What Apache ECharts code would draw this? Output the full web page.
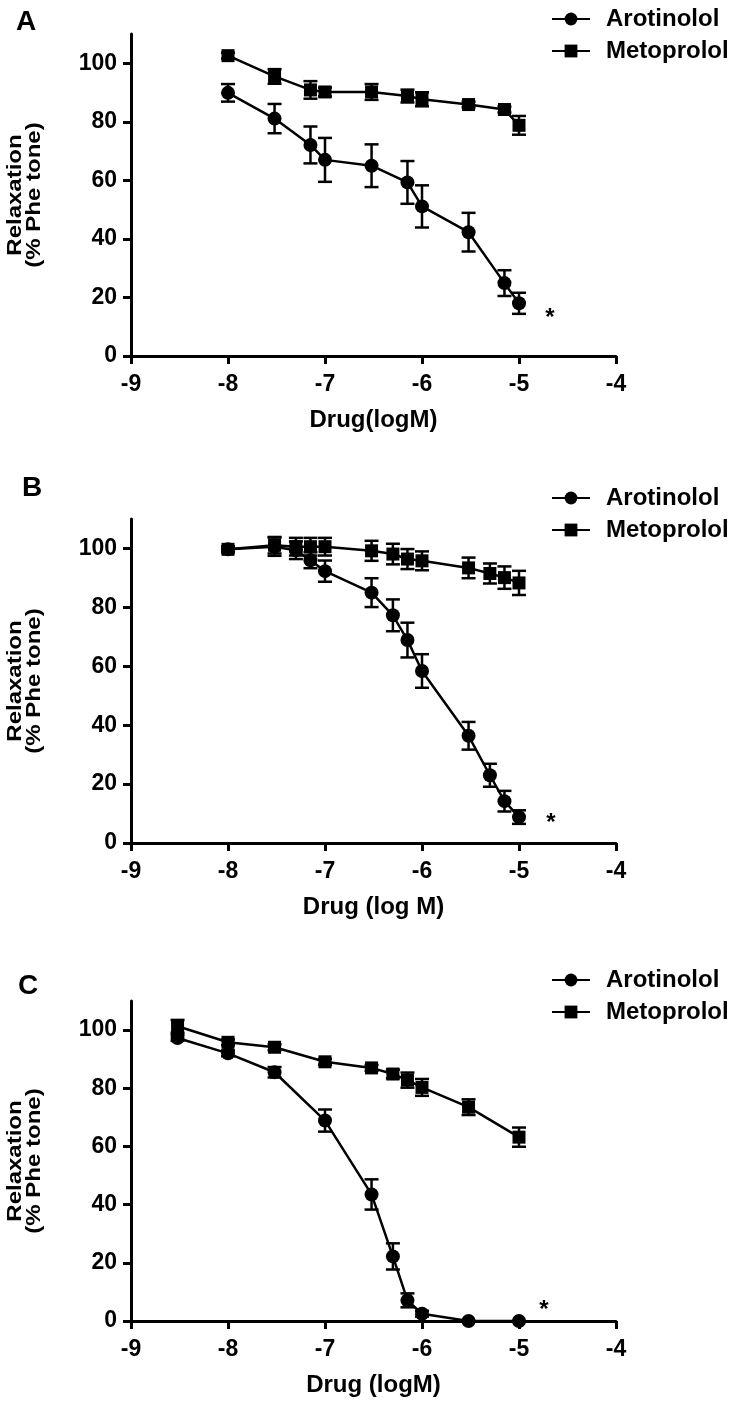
<!DOCTYPE html>
<html>
<head>
<meta charset="utf-8">
<script src="https://cdn.jsdelivr.net/npm/echarts@6/dist/echarts.min.js"></script>
<style>html,body{margin:0;padding:0;background:#fff}#c{width:740px;height:1405px}</style>
</head>
<body>
<div id="c"></div>
<script>
// ---------- data ----------
const panelLetters = ['A', 'B', 'C'];
const xTitles = ['Drug(logM)', 'Drug (log M)', 'Drug (logM)'];
const yTitle = 'Relaxation\n(% Phe tone)';
const seriesNames = ['Arotinolol', 'Metoprolol'];
const yTicks = [0, 20, 40, 60, 80, 100];

// Panel A
const xA = [-8, -7.52, -7.15, -7, -6.52, -6.15, -6, -5.52, -5.15, -5];
const aroA = [89.9, 81.1, 72.1, 67.0, 65.0, 59.3, 51.1, 42.3, 24.9, 18.0];
const aroA_sem = [3.0, 5.0, 6.3, 7.5, 7.3, 7.3, 7.2, 6.6, 4.4, 3.6];
const metA = [102.6, 95.5, 90.9, 90.2, 90.2, 88.8, 87.7, 85.9, 84.2, 78.8];
const metA_sem = [1.0, 2.5, 3.0, 1.5, 2.7, 2.2, 2.4, 1.0, 1.0, 3.2];

// Panel B
const xB = [-8, -7.52, -7.3, -7.15, -7, -6.52, -6.3, -6.15, -6, -5.52, -5.3, -5.15, -5];
const aroB = [99.7, 100.6, 99.4, 96.0, 92.3, 85.0, 77.3, 68.9, 58.4, 36.4, 23.0, 14.2, 8.8];
const aroB_sem = [1.0, 3.1, 3.0, 2.7, 3.6, 4.9, 5.4, 5.9, 5.7, 4.7, 3.9, 3.5, 2.3];
const metB = [99.7, 101.1, 100.6, 100.6, 100.6, 99.2, 98.1, 96.4, 95.8, 93.4, 91.5, 90.1, 88.3];
const metB_sem = [1.0, 2.8, 3.0, 3.0, 3.0, 3.4, 3.5, 3.4, 3.2, 3.5, 3.4, 3.8, 4.1];

// Panel C
const xC = [-8.52, -8, -7.52, -7, -6.52, -6.3, -6.15, -6, -5.52, -5];
const aroC = [97.3, 92.0, 85.5, 68.9, 43.5, 22.2, 7.1, 2.5, 0, 0];
const aroC_sem = [1.0, 1.0, 1.8, 3.8, 5.2, 4.5, 2.4, 1.0, 0, 0];
const metC = [101.3, 95.8, 94.1, 89.1, 87.0, 84.9, 82.8, 80.3, 73.5, 63.2];
const metC_sem = [2.2, 1.0, 1.0, 1.0, 1.0, 1.5, 2.6, 2.9, 2.7, 3.3];

const panels = [
  {x: xA, aro: aroA, aroSem: aroA_sem, met: metA, metSem: metA_sem},
  {x: xB, aro: aroB, aroSem: aroB_sem, met: metB, metSem: metB_sem},
  {x: xC, aro: aroC, aroSem: aroC_sem, met: metC, metSem: metC_sem}
];

// ---------- layout / style ----------
const FONT = '"Liberation Sans", Arial, sans-serif';
const grids = [
  {left: 131, right: 124, top: 34, height: 322},
  {left: 131, right: 124, top: 519, height: 324},
  {left: 131, right: 124, top: 1001, height: 320}
];
const legendTops = [2, 481, 963];
const letterPos = [[26, 23], [32, 489], [28, 987]];
const starPos = [[550, 318], [551, 823], [544, 1310]];
const yTitleX = 25;

const pairs = (xs, ys) => xs.map((x, i) => [x, ys[i]]);
const errs = (xs, ys, s) => xs.map((x, i) => [x, ys[i] - s[i], ys[i] + s[i]]);

function errorBar(params, api) {
  const x = api.value(0), lo = api.value(1), hi = api.value(2);
  const p1 = api.coord([x, lo]), p2 = api.coord([x, hi]);
  const w = 7;
  const st = {stroke: '#000', lineWidth: 2.5};
  return {
    type: 'group',
    children: [
      {type: 'line', shape: {x1: p1[0], y1: p1[1], x2: p2[0], y2: p2[1]}, style: st},
      {type: 'line', shape: {x1: p1[0] - w, y1: p1[1], x2: p1[0] + w, y2: p1[1]}, style: st},
      {type: 'line', shape: {x1: p2[0] - w, y1: p2[1], x2: p2[0] + w, y2: p2[1]}, style: st}
    ]
  };
}

const xAxes = [], yAxes = [], series = [], legends = [], graphics = [];
panels.forEach((p, i) => {
  xAxes.push({
    gridIndex: i, type: 'value', min: -9, max: -4, interval: 1,
    name: xTitles[i], nameLocation: 'middle', nameGap: 52,
    nameTextStyle: {fontFamily: FONT, fontWeight: 'bold', fontSize: 24, color: '#000'},
    axisLine: {show: true, onZero: false, lineStyle: {color: '#000', width: 3}},
    axisTick: {show: true, inside: false, length: 8, lineStyle: {color: '#000', width: 3}},
    axisLabel: {margin: 17, fontFamily: FONT, fontWeight: 'bold', fontSize: 23, color: '#000'},
    splitLine: {show: false}
  });
  yAxes.push({
    gridIndex: i, type: 'value', min: 0, max: 110, interval: 20,
    axisLine: {show: true, onZero: false, lineStyle: {color: '#000', width: 3}},
    axisTick: {show: true, inside: false, length: 8, customValues: yTicks, lineStyle: {color: '#000', width: 3}},
    axisLabel: {margin: 14, customValues: yTicks, fontFamily: FONT, fontWeight: 'bold', fontSize: 23, color: '#000'},
    splitLine: {show: false}
  });
  series.push({
    type: 'custom', xAxisIndex: i, yAxisIndex: i, renderItem: errorBar,
    data: errs(p.x, p.met, p.metSem), silent: true, z: 3
  });
  series.push({
    type: 'custom', xAxisIndex: i, yAxisIndex: i, renderItem: errorBar,
    data: errs(p.x, p.aro, p.aroSem), silent: true, z: 3
  });
  series.push({
    name: seriesNames[1], type: 'line', xAxisIndex: i, yAxisIndex: i,
    data: pairs(p.x, p.met), symbol: 'rect', symbolSize: 13,
    lineStyle: {color: '#000', width: 2.5}, itemStyle: {color: '#000'},
    animation: false, z: 4
  });
  series.push({
    name: seriesNames[0], type: 'line', xAxisIndex: i, yAxisIndex: i,
    data: pairs(p.x, p.aro), symbol: 'circle', symbolSize: 14,
    lineStyle: {color: '#000', width: 2.5}, itemStyle: {color: '#000'},
    animation: false, z: 5
  });
  legends.push({
    data: seriesNames, orient: 'vertical', left: 546, top: legendTops[i],
    itemWidth: 38, itemHeight: 16, itemGap: 8,
    textStyle: {fontFamily: FONT, fontWeight: 'bold', fontSize: 24, color: '#000', padding: [0, 0, 0, 11]},
    selectedMode: false
  });
  graphics.push({
    type: 'text', left: letterPos[i][0] - 10, top: letterPos[i][1] - 15,
    style: {text: panelLetters[i], font: 'bold 28px ' + FONT, fill: '#000'}
  });
  graphics.push({
    type: 'text', x: starPos[i][0], y: starPos[i][1],
    style: {text: '*', font: 'bold 24px ' + FONT, fill: '#000', textAlign: 'center', textVerticalAlign: 'middle'}
  });
  const g = grids[i];
  graphics.push({
    type: 'text', x: yTitleX, y: g.top + g.height / 2,
    rotation: Math.PI / 2, scaleX: 1.2,
    style: {text: yTitle, font: 'bold 20px ' + FONT, lineHeight: 19, fill: '#000',
            textAlign: 'center', textVerticalAlign: 'middle'}
  });
});

const chart = echarts.init(document.getElementById('c'));
chart.setOption({
  animation: false,
  backgroundColor: '#fff',
  grid: grids,
  xAxis: xAxes,
  yAxis: yAxes,
  legend: legends,
  series: series,
  graphic: graphics
});
</script>
</body>
</html>
